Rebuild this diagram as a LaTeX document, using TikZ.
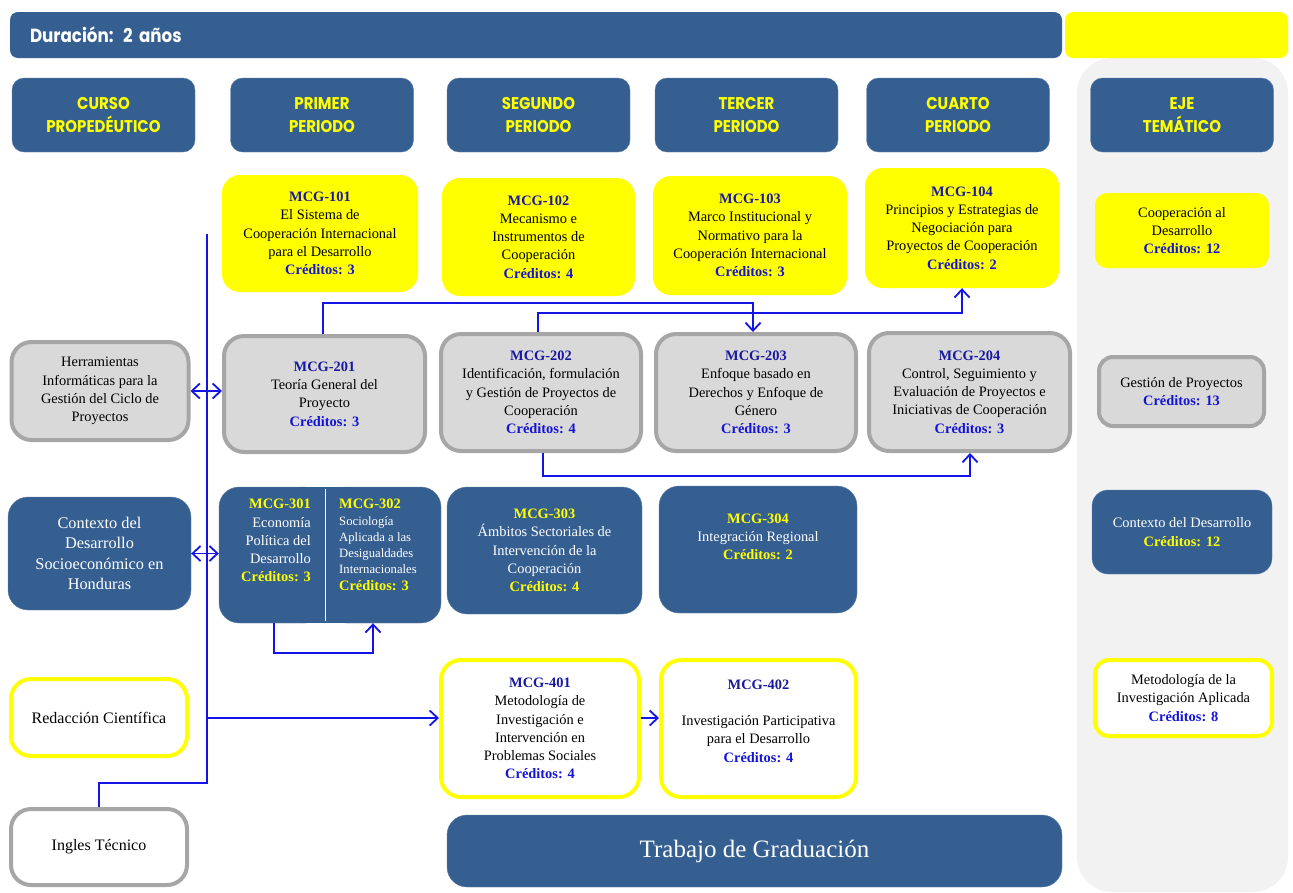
\documentclass[tikz,border=0pt]{standalone}
\usepackage{fontspec}
\setmainfont{Liberation Serif}
\newfontfamily\headfont[FakeStretch=0.88]{Poppins}
\usepackage{tikz}
\usetikzlibrary{arrows.meta, positioning}

\definecolor{azulcaja}{RGB}{54,95,145}
\definecolor{amarillo}{RGB}{255,255,0}
\definecolor{grisrelleno}{RGB}{217,217,217}
\definecolor{grisborde}{RGB}{166,166,166}
\definecolor{grisfondo}{RGB}{242,242,242}
\definecolor{azullinea}{RGB}{20,20,230}
\definecolor{azulcodigo}{RGB}{25,25,160}
\definecolor{azulcred}{RGB}{20,20,215}

\newcommand{\cuerpo}{\fontsize{14.4}{18.3}\selectfont}
\newcommand{\chico}{\fontsize{12.7}{16.3}\selectfont}
\newcommand{\cod}[1]{\textcolor{azulcodigo}{\textbf{#1}}}
\newcommand{\cred}[1]{\textcolor{azulcred}{\textbf{Créditos: #1}}}
\newcommand{\cody}[1]{\textcolor{amarillo}{\textbf{#1}}}
\newcommand{\credy}[1]{\textcolor{amarillo}{\textbf{Créditos: #1}}}

\begin{document}
\begin{tikzpicture}[x=1pt, y=-1pt,
		every node/.style={inner sep=2pt, align=center, font=\cuerpo},
		periodo/.style={rounded corners=12pt, fill=azulcaja, draw=azulcaja!80!white, text=amarillo,
			font=\headfont\bfseries\fontsize{17}{23}\selectfont, minimum width=183pt, minimum height=74pt},
		amarillo/.style={rounded corners=18pt, fill=amarillo},
		gris/.style={rounded corners=20pt, fill=grisrelleno, draw=grisborde, line width=4pt},
		azul/.style={rounded corners=20pt, fill=azulcaja, draw=azulcaja!80!white, text=white},
		borde/.style={rounded corners=20pt, fill=white, draw=amarillo, line width=4pt},
		enlace/.style={draw=azullinea, line width=1.8pt},
		>={Straight Barb[length=8pt, width=15pt]}
		]
		\useasboundingbox (0,0) rectangle (1293,892);
		
		% Fondo y encabezado
		\node[fill=grisfondo, rounded corners=35pt, minimum width=211pt, minimum height=834pt, inner sep=0pt] (fondo) at (1182.5,475) {};
		\node[fill=azulcaja, rounded corners=8pt, minimum height=46pt, text width=1012pt, inner xsep=20pt, align=left, text=white,
			font=\headfont\bfseries\fontsize{19}{22}\selectfont] (duracion) at (536,35) {Duración: 2 años};
		\node[fill=amarillo, rounded corners=8pt, minimum width=223pt, minimum height=46pt] (barra) at (1176.5,35) {};
		
		% Periodos
		\node[periodo] (curso) at (103.5,115) {CURSO\\PROPEDÉUTICO};
		\node[periodo] (per1) at (322,115) {PRIMER\\PERIODO};
		\node[periodo] (per2) at (538.5,115) {SEGUNDO\\PERIODO};
		\node[periodo] (per3) at (746.5,115) {TERCER\\PERIODO};
		\node[periodo] (per4) at (958,115) {CUARTO\\PERIODO};
		\node[periodo] (eje) at (1182,115) {EJE\\TEMÁTICO};
		
		% Fila 1
		\node[amarillo, minimum width=196pt, minimum height=117pt] (m101) at (320,233.5) {\cod{MCG-101}\\El Sistema de\\Cooperación Internacional\\para el Desarrollo\\\cred{3}};
		\node[amarillo, minimum width=193pt, minimum height=118pt] (m102) at (538.5,237) {\cod{MCG-102}\\Mecanismo e\\Instrumentos de\\Cooperación\\\cred{4}};
		\node[amarillo, minimum width=194pt, minimum height=119pt] (m103) at (750,235.5) {\cod{MCG-103}\\Marco Institucional y\\Normativo para la\\Cooperación Internacional\\\cred{3}};
		\node[amarillo, minimum width=194pt, minimum height=120pt] (m104) at (962,228) {\cod{MCG-104}\\Principios y Estrategias de\\Negociación para\\Proyectos de Cooperación\\\cred{2}};
		\node[amarillo, rounded corners=12pt, minimum width=174pt, minimum height=75pt] (ejecoop) at (1182,230.5) {Cooperación al\\Desarrollo\\\cred{12}};
		
		% Fila 2
		\node[gris, minimum width=177pt, minimum height=98pt] (herr) at (100,391) {Herramientas\\Informáticas para la\\Gestión del Ciclo de\\Proyectos};
		\node[gris, minimum width=201pt, minimum height=116pt] (m201) at (324.5,394) {\cod{MCG-201}\\Teoría General del\\Proyecto\\\cred{3}};
		\node[gris, minimum width=200pt, minimum height=117pt] (m202) at (541,392.5) {\cod{MCG-202}\\Identificación, formulación\\y Gestión de Proyectos de\\Cooperación\\\cred{4}};
		\node[gris, minimum width=200pt, minimum height=117pt] (m203) at (756,392.5) {\cod{MCG-203}\\Enfoque basado en\\Derechos y Enfoque de\\Género\\\cred{3}};
		\node[gris, minimum width=201pt, minimum height=118pt] (m204) at (969.5,392) {\cod{MCG-204}\\Control, Seguimiento y\\Evaluación de Proyectos e\\Iniciativas de Cooperación\\\cred{3}};
		\node[gris, rounded corners=14pt, minimum width=165pt, minimum height=69pt] (ejegest) at (1181.5,391.5) {Gestión de Proyectos\\\cred{13}};
		
		% Fila 3
		\node[azul, minimum width=183pt, minimum height=113pt, font=\fontsize{16.3}{20.6}\selectfont] (ctx) at (99.5,553.5) {Contexto del\\Desarrollo\\Socioeconómico en\\Honduras};
		\node[azul, minimum width=106pt, minimum height=136pt] (m301) at (272,555) {};
		\node[azul, minimum width=115pt, minimum height=136pt] (m302) at (383.5,555) {};
		\fill[azulcaja] (300,487) rectangle (350,623);
		\draw[white, line width=1pt] (325.5,489) -- (325.5,621);
		\node[anchor=north east, align=right, inner sep=0pt, text=white] (t301) at (311,499) {\cody{MCG-301}\\Economía\\Política del\\Desarrollo\\\credy{3}};
		\node[anchor=north west, align=left, inner sep=0pt, text=white, font=\chico] (t302) at (339,499) {{\cuerpo\cody{MCG-302}}\\Sociología\\Aplicada a las\\Desigualdades\\Internacionales\\{\cuerpo\credy{3}}};
		\node[azul, minimum width=195pt, minimum height=127pt] (m303) at (544.5,550.5) {\cody{MCG-303}\\Ámbitos Sectoriales de\\Intervención de la\\Cooperación\\\credy{4}};
		\node[azul, minimum width=198pt, minimum height=127pt] (m304) at (758,549.5) {};
		\node[text=white] (t304) at (758,537) {\cody{MCG-304}\\Integración Regional\\\credy{2}};
		\node[azul, rounded corners=16pt, minimum width=180pt, minimum height=84pt] (ejectx) at (1182,532) {Contexto del Desarrollo\\\credy{12}};
		
		% Fila 4
		\node[borde, minimum width=176pt, minimum height=77pt, font=\fontsize{16}{19}\selectfont] (red) at (99,717.5) {Redacción Científica};
		\node[gris, fill=white, minimum width=176pt, minimum height=76pt, font=\fontsize{16}{19}\selectfont] (ing) at (99,847) {Ingles Técnico};
		\node[borde, minimum width=198pt, minimum height=137pt] (m401) at (540,728.5) {\cod{MCG-401}\\Metodología de\\Investigación e\\Intervención en\\Problemas Sociales\\\cred{4}};
		\node[borde, minimum width=195pt, minimum height=137pt] (m402) at (758.5,728.5) {};
		\node (t402) at (758.5,721) {\cod{MCG-402}\\ \\Investigación Participativa\\para el Desarrollo\\\cred{4}};
		\node[azul, minimum width=615pt, minimum height=72pt, font=\fontsize{25}{28}\selectfont] (trabajo) at (754.5,851) {Trabajo de Graduación};
		\node[borde, rounded corners=14pt, minimum width=177pt, minimum height=76pt] (ejemet) at (1183.5,698) {Metodología de la\\Investigación Aplicada\\\cred{8}};
		
		% Puntos de quiebre
		\coordinate (tronco) at (207,234);
		\coordinate (codo) at (207,783);
		\coordinate (rama) at (207,718);
		\coordinate (k201) at (323,303);
		\coordinate (k203) at (753,303);
		\coordinate (k202) at (538,313);
		\coordinate (k104) at (962,313);
		\coordinate (b202) at (543,476);
		\coordinate (b204) at (970,476);
		\coordinate (b301) at (274,653);
		\coordinate (b302) at (373,653);
		
		% Conexiones
		\draw[enlace] (ing.north) |- (codo) -- (tronco);
		\draw[enlace, ->] (rama) -- (rama -| m401.west);
		\draw[enlace, ->] (m401.east |- rama) -- (m402.west |- rama);
		\draw[enlace, <->] (herr.east) -- (herr.east -| m201.west);
		\draw[enlace, <->] (ctx.east) -- (ctx.east -| m301.west);
		\draw[enlace, ->] (m201.north -| k201) -- (k201) -- (k203) -- (m203.north -| k203);
		\draw[enlace, ->] (m202.north -| k202) -- (k202) -- (k104) -- (m104.south -| k104);
		\draw[enlace, ->] (m202.south -| b202) -- (b202) -- (b204) -- (m204.south -| b204);
		\draw[enlace, ->] (m301.south -| b301) -- (b301) -- (b302) -- (m302.south -| b302);
	\end{tikzpicture}
\end{document}
